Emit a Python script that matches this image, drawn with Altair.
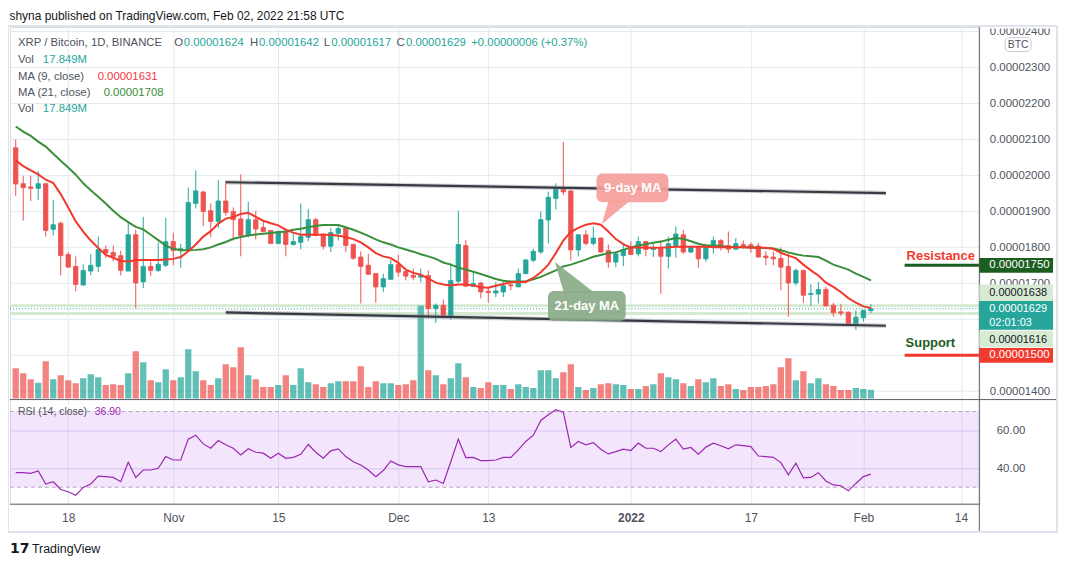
import altair as alt
import pandas as pd
import numpy as np

# ---------------- data (prices in units of 1e-8 BTC) ----------------
opens = [2077,1977,1968,1964,1977,1850,1867,1780,1747,1695,1734,1747,1794,1786,1777,1734,1835,1704,1747,1736,
         1750,1816,1791,1793,1922,1954,1902,1872,1929,1900,1879,1833,1877,1855,1847,1811,1844,1808,1814,
         1828,1877,1837,1803,1839,1854,1808,1773,1750,1727,1690,1711,1752,1733,1722,1717,1722,1630,
         1639,1609,1706,1805,1692,1701,1678,1673,1676,1696,1690,1727,1764,1787,1876,1936,1964,1957,1793,
         1835,1811,1826,1791,1759,1777,1800,1782,1816,1794,1796,1775,1805,1835,1787,1800,1768,1800,
         1819,1805,1795,1808,1807,1804,1776,1773,1769,1747,1701,1736,1669,1670,1683,1639,1621,1620,1587,1604,1624]
highs = [2100,1999,1999,2012,1979,1932,1872,1787,1775,1753,1782,1830,1805,1805,1791,1872,1849,1885,1761,1814,
         1882,1841,1810,1966,2014,1957,1922,1987,1985,1911,2003,1927,1902,1872,1848,1847,1848,1839,1922,
         1906,1882,1839,1854,1865,1856,1810,1789,1782,1727,1727,1765,1780,1736,1741,1741,1736,1644,
         1655,1756,1902,1821,1731,1704,1690,1704,1708,1706,1741,1768,1796,1900,1955,1978,2093,1959,1835,
         1848,1858,1828,1808,1789,1808,1817,1830,1817,1810,1819,1830,1858,1848,1804,1805,1810,1830,
         1823,1844,1826,1819,1814,1812,1789,1789,1800,1787,1741,1738,1697,1704,1690,1646,1642,1621,1625,1625,1642]
lows = [1943,1874,1929,1932,1830,1833,1722,1743,1678,1695,1722,1731,1771,1761,1722,1734,1630,1687,1720,1731,
        1745,1750,1743,1791,1908,1860,1828,1854,1888,1819,1775,1828,1822,1842,1810,1808,1775,1805,1794,
        1817,1830,1794,1787,1819,1787,1765,1644,1725,1646,1676,1711,1719,1708,1708,1703,1602,1590,
        1602,1599,1701,1690,1690,1658,1646,1662,1662,1681,1690,1725,1759,1782,1811,1905,1945,1764,1775,
        1805,1805,1785,1743,1745,1748,1779,1775,1775,1773,1671,1741,1771,1782,1784,1743,1760,1782,
        1791,1784,1794,1796,1785,1771,1750,1750,1681,1607,1694,1646,1637,1644,1637,1607,1609,1587,1570,1593,1617]
closes = [1976,1966,1964,1977,1847,1863,1777,1745,1697,1736,1750,1794,1784,1775,1736,1835,1701,1747,1736,1753,
          1816,1791,1796,1925,1957,1900,1872,1929,1897,1877,1833,1877,1851,1844,1811,1844,1808,1816,1830,
          1877,1833,1803,1841,1852,1805,1770,1747,1725,1690,1713,1752,1731,1720,1717,1722,1630,1639,
          1611,1708,1808,1692,1699,1676,1674,1679,1693,1693,1727,1765,1789,1877,1939,1964,1954,1793,1835,
          1811,1826,1787,1759,1782,1794,1780,1816,1794,1798,1775,1810,1837,1787,1800,1768,1802,1819,
          1800,1795,1810,1804,1799,1773,1771,1768,1745,1701,1736,1667,1672,1683,1637,1618,1617,1587,1606,1625,1629]
volumes = [61,51,39,32,75,39,47,37,31,41,49,43,27,29,27,51,95,73,37,33,
           59,37,43,99,55,37,27,41,69,63,103,47,39,23,23,27,47,27,61,
           33,29,23,31,35,35,35,65,23,35,31,31,27,29,37,187,57,47,
           29,41,71,43,23,21,33,27,27,19,29,23,21,57,57,41,53,69,23,
           17,21,29,31,29,27,19,19,25,29,51,43,39,31,25,39,33,41,
           25,29,19,17,23,23,25,29,63,81,37,55,31,41,29,25,17,17,21,19,17.849]
ma9 = [2042,2026,2014,2003,1988,1979,1948,1911,1872,1844,1819,1798,1779,1771,1762,1761,1764,1765,1765,1765,
       1766,1768,1773,1789,1808,1830,1845,1866,1880,1884,1893,1896,1885,1874,1867,1861,1849,1841,1835,
       1836,1835,1835,1835,1832,1829,1823,1814,1800,1784,1775,1770,1757,1738,1729,1724,1713,1702,
       1697,1694,1697,1697,1694,1689,1688,1693,1698,1703,1704,1704,1715,1731,1752,1784,1819,1843,1854,
       1863,1867,1863,1844,1823,1809,1799,1800,1799,1799,1799,1800,1802,1802,1802,1802,1802,1800,
       1800,1800,1800,1800,1799,1799,1799,1796,1785,1777,1770,1752,1736,1722,1702,1690,1676,1659,1646,1636,1631]
ma21 = [2136,2122,2110,2094,2080,2060,2041,2022,2002,1978,1959,1941,1922,1902,1884,1870,1857,1850,1835,1820,
        1805,1796,1792,1792,1793,1795,1800,1808,1815,1824,1829,1833,1836,1838,1840,1842,1844,1849,1852,
        1856,1860,1862,1862,1862,1856,1849,1841,1832,1822,1814,1808,1800,1794,1788,1781,1775,1768,
        1758,1752,1744,1738,1732,1726,1719,1712,1707,1705,1705,1706,1711,1718,1727,1736,1747,1752,1759,
        1766,1774,1779,1784,1786,1793,1800,1805,1809,1813,1816,1821,1826,1824,1817,1810,1805,1805,
        1804,1802,1801,1800,1800,1799,1798,1797,1792,1786,1781,1777,1775,1773,1763,1752,1745,1738,1727,1718,1708]
rsi = [37.7,37.7,37.3,38.6,31.7,32.9,28.8,27.6,25.8,29.9,31.7,35.9,35.6,35.2,32.9,43.2,35.2,39.1,39.1,40.0,
       46.2,44.4,44.4,55.4,57.5,52.9,50.6,54.7,52.4,50.6,47.1,50.3,48.5,48.0,45.3,48.0,45.3,45.8,47.4,
       52.6,48.5,45.3,49.2,50.3,46.2,43.5,41.8,39.1,35.6,38.8,43.9,41.8,40.9,40.9,40.9,32.9,33.8,
       32.0,43.5,55.4,45.7,45.8,44.1,44.1,44.4,45.8,45.8,49.7,54.2,57.5,65.3,68.3,71.0,69.7,51.0,54.2,
       52.4,53.6,50.1,47.6,48.8,50.1,49.4,53.3,50.6,50.6,48.8,52.4,55.4,50.1,51.0,47.4,51.2,53.3,
       51.9,50.3,52.4,52.0,51.5,46.5,46.2,45.8,43.0,36.5,42.7,35.0,35.2,37.7,33.3,31.2,30.8,28.1,32.0,35.6,36.9]

first_day = "2021-10-11"
dates = pd.date_range(first_day, periods=len(opens), freq="D").strftime("%Y-%m-%d").tolist()

trend_dates = ["2021-11-08", "2022-02-04"]
upper_trend = [1981, 1951]
lower_trend = [1619, 1582]

resistance_level = 1750
support_level = 1500
bid_ask_levels = [1638, 1616]
last_price = 1629
# 0.00001600 is fully covered by the price tags in the reference, so it is not labelled
tick_prices = [1400, 1500, 1700, 1800, 1900, 2000, 2100, 2200, 2300, 2400]
grid_prices = list(range(1400, 2401, 100))
rsi_levels = [30, 70]
rsi_ticks = [40, 60]

# ---------------- styling ----------------
FONT = "Liberation Sans"
UP, DOWN = "#26a69a", "#ef5350"
GRID = "#e1ecf2"
TXT = "#50535e"
W, H = 973, 479
LEG = 11.4

df = pd.DataFrame({"date": dates, "open": opens, "high": highs, "low": lows, "close": closes,
                   "vol": volumes, "ma9": ma9, "ma21": ma21, "rsi": rsi})
df["dir"] = np.where(df["close"] >= df["open"], "up", "down")

dir_scale = alt.Scale(domain=["up", "down"], range=[UP, DOWN])
price_scale = alt.Scale(domain=[1086, 2412.7], nice=False, zero=False)
vol_scale = alt.Scale(domain=[-212, 746], nice=False, zero=False)
rsi_scale = alt.Scale(domain=[21.05, 273.2], nice=False, zero=False)
x_scale = alt.Scale(type="utc", nice=False, domain=[
    alt.DateTime(year=2021, month=10, date=10, hours=21, minutes=36, utc=True),
    alt.DateTime(year=2022, month=2, date=15, hours=19, utc=True)])

x_ticks = [alt.DateTime(year=y, month=m, date=d, utc=True) for (y, m, d) in
           [(2021, 10, 18), (2021, 11, 1), (2021, 11, 15), (2021, 12, 1), (2021, 12, 13),
            (2022, 1, 1), (2022, 1, 17), (2022, 2, 1), (2022, 2, 14)]]
x_axis = alt.Axis(values=x_ticks, title=None, grid=True, gridColor=GRID, domain=False, ticks=False,
                  labelPadding=8, labelFont=FONT, labelFontSize=12, labelColor=TXT,
                  labelOverlap=False, labelFlush=False, zindex=0,
                  labelExpr="utcdate(datum.value)==1 ? (utcmonth(datum.value)==0 ? utcFormat(datum.value,'%Y') : utcFormat(datum.value,'%b')) : utcFormat(datum.value,'%-d')",
                  labelFontWeight={"condition": {"test": "utcmonth(datum.value)==0 && utcdate(datum.value)==1", "value": "bold"}, "value": "normal"})
price_axis = alt.Axis(orient="right", values=tick_prices, title=None, grid=False,
                      domain=False, ticks=False, labelPadding=10, labelFont=FONT, labelFontSize=11.5,
                      labelColor=TXT, labelOverlap=False, zindex=0,
                      labelExpr="format(datum.value/1e8, '.8f')")
rsi_axis = alt.Axis(orient="right", values=rsi_ticks, title=None, grid=True, gridColor="#dcd6ef",
                    domain=False, ticks=False, labelPadding=17, labelFont=FONT, labelFontSize=11.5,
                    labelColor=TXT, labelOverlap=False, zindex=0,
                    labelExpr="format(datum.value, '.2f')")


def X(field="date"):
    return alt.X(f"{field}:T", scale=x_scale, axis=x_axis)


ONE = pd.DataFrame({"k": [0]})


def txt(s, x, y, size=LEG, color=TXT, weight="normal", align="left", font=FONT):
    return alt.Chart(ONE).mark_text(text=s, align=align, baseline="middle", fontSize=size,
                                    color=color, fontWeight=weight, font=font).encode(
        x=alt.value(x), y=alt.value(y))


def box(x1, x2, y1, y2, color, radius=0, opacity=1.0):
    return alt.Chart(ONE).mark_rect(color=color, cornerRadius=radius, opacity=opacity).encode(
        x=alt.value(x1), x2=alt.value(x2), y=alt.value(y1), y2=alt.value(y2))


def rule(x1, x2, y1, y2, color, width=1.0):
    return alt.Chart(ONE).mark_rule(color=color, strokeWidth=width).encode(
        x=alt.value(x1), x2=alt.value(x2), y=alt.value(y1), y2=alt.value(y2))


def pointer(cx, cy, r, path, color, opacity):
    return alt.Chart(ONE).mark_point(shape=path, size=(2 * r) ** 2, filled=True, color=color,
                                     opacity=opacity, strokeWidth=0).encode(
        x=alt.value(cx), y=alt.value(cy))


layers = []

# horizontal price grid
layers.append(alt.Chart(pd.DataFrame({"p": grid_prices})).mark_rule(color=GRID, strokeWidth=1).encode(
    x=alt.value(0), x2=alt.value(W), y=alt.Y("p:Q", scale=price_scale, axis=None)))

# RSI pane background band and levels
band = pd.DataFrame({"hi": [rsi_levels[1]], "lo": [rsi_levels[0]]})
layers.append(alt.Chart(band).mark_rect(color="#c37df0", opacity=0.2).encode(
    x=alt.value(0), x2=alt.value(W),
    y=alt.Y("hi:Q", scale=rsi_scale, axis=rsi_axis), y2="lo:Q"))
layers.append(alt.Chart(pd.DataFrame({"lvl": rsi_levels})).mark_rule(
    color="#b9a7c3", strokeDash=[4, 3], strokeWidth=1).encode(
    x=alt.value(0), x2=alt.value(W), y=alt.Y("lvl:Q", scale=rsi_scale, axis=None)))

# bid / ask and last price lines
layers.append(alt.Chart(pd.DataFrame({"p": bid_ask_levels})).mark_rule(
    color="#d6ead2", strokeWidth=3).encode(
    x=alt.value(0), x2=alt.value(W), y=alt.Y("p:Q", scale=price_scale, axis=None)))
layers.append(alt.Chart(pd.DataFrame({"p": [last_price]})).mark_rule(
    color=UP, strokeDash=[1, 2], strokeWidth=1).encode(
    x=alt.value(0), x2=alt.value(W), y=alt.Y("p:Q", scale=price_scale, axis=None)))

# volume
layers.append(alt.Chart(df).mark_bar(size=6.3, opacity=0.72, clip=True).encode(
    x=X(), y=alt.Y("vol:Q", scale=vol_scale, axis=None),
    color=alt.Color("dir:N", scale=dir_scale, legend=None)))

# candles
layers.append(alt.Chart(df).mark_rule(strokeWidth=1, clip=True).encode(
    x=X(), y=alt.Y("low:Q", scale=price_scale, axis=price_axis), y2="high:Q",
    color=alt.Color("dir:N", scale=dir_scale, legend=None)))
layers.append(alt.Chart(df).mark_bar(size=4.4, strokeWidth=0.8, clip=True).encode(
    x=X(), y=alt.Y("open:Q", scale=price_scale, axis=None), y2="close:Q",
    color=alt.Color("dir:N", scale=dir_scale, legend=None),
    stroke=alt.Stroke("dir:N", scale=dir_scale, legend=None)))

# moving averages
layers.append(alt.Chart(df).mark_line(color="#3a8f3a", strokeWidth=2, clip=True).encode(
    x=X(), y=alt.Y("ma21:Q", scale=price_scale, axis=None)))
layers.append(alt.Chart(df).mark_line(color="#f2382c", strokeWidth=2, clip=True).encode(
    x=X(), y=alt.Y("ma9:Q", scale=price_scale, axis=None)))

# RSI line
layers.append(alt.Chart(df).mark_line(color="#9c27b0", strokeWidth=1.2, clip=True).encode(
    x=X(), y=alt.Y("rsi:Q", scale=rsi_scale, axis=None)))

# trend channel
trend = pd.DataFrame({"date": trend_dates * 2, "price": upper_trend + lower_trend,
                      "line": ["upper", "upper", "lower", "lower"]})
layers.append(alt.Chart(trend).mark_line(color="#9a9a9a", strokeWidth=4.5, opacity=0.45).encode(
    x=X(), y=alt.Y("price:Q", scale=price_scale, axis=None), detail="line:N"))
layers.append(alt.Chart(trend).mark_line(color="#363a45", strokeWidth=2.2).encode(
    x=X(), y=alt.Y("price:Q", scale=price_scale, axis=None), detail="line:N"))

# callouts
C9, C21 = "#f6a09b", "#8aab88"
layers.append(box(588.7, 661, 147, 176, C9, radius=6, opacity=0.92))
layers.append(pointer(608, 187, 15, "M-0.467,-0.867L1,-0.867L-0.933,0.733Z", C9, 0.92))
layers.append(txt("9-day MA", 625, 161.5, size=13, color="white", weight="bold", align="center"))
layers.append(box(540, 618, 265, 295, C21, radius=6, opacity=0.92))
layers.append(pointer(567, 251, 20, "M-1,-0.75L-0.55,0.8L1,0.8Z", C21, 0.92))
layers.append(txt("21-day MA", 579, 280, size=13, color="white", weight="bold", align="center"))

# resistance / support
layers.append(alt.Chart(pd.DataFrame({"p": [resistance_level]})).mark_rule(
    color="#1b5e20", strokeWidth=3).encode(
    x=alt.value(898), x2=alt.value(W), y=alt.Y("p:Q", scale=price_scale, axis=None)))
layers.append(alt.Chart(pd.DataFrame({"p": [support_level]})).mark_rule(
    color="#f23a2e", strokeWidth=3).encode(
    x=alt.value(898), x2=alt.value(W), y=alt.Y("p:Q", scale=price_scale, axis=None)))
layers.append(txt("Resistance", 900, 230, size=13, color="#f23a2e", weight="bold"))
layers.append(txt("Support", 899, 317, size=13, color="#1e5c1e", weight="bold"))

# frame and separators
layers.append(box(973, 1060, -18, 1.5, "white"))
layers.append(rule(0, 1051, 374, 374, "#5d606b", 1))
layers.append(rule(0, W, 479, 479, "#5d606b", 1))
layers.append(rule(W, W, 0, 507, "#5d606b", 1))
layers.append(alt.Chart(ONE).mark_rect(fill="white", fillOpacity=0, stroke="#e0e3eb", strokeWidth=2).encode(
    x=alt.value(-2), x2=alt.value(1051), y=alt.value(-1), y2=alt.value(507)))

# price tags on the scale
TAG = 11
RECT = "M-1,-0.2L1,-0.2L1,0.2L-1,0.2Z"
for lvl, bg in [(resistance_level, "#1b5e20"), (support_level, "#f23a2e")]:
    t = pd.DataFrame({"p": [lvl], "label": [f"{lvl / 1e8:.8f}"]})
    layers.append(alt.Chart(t).mark_point(shape=RECT, size=74 ** 2, filled=True, color=bg,
                                          opacity=1, strokeWidth=0).encode(
        x=alt.value(1010), y=alt.Y("p:Q", scale=price_scale, axis=None)))
    layers.append(alt.Chart(t).mark_text(align="left", baseline="middle", fontSize=11.5, font=FONT,
                                         color="white").encode(
        x=alt.value(983), y=alt.Y("p:Q", scale=price_scale, axis=None), text="label:N"))

layers.append(box(973, 1047, 258.5, 275, "#d7ead3"))
layers.append(txt(f"{bid_ask_levels[0] / 1e8:.8f}", 983, 267, size=TAG, color="#131722"))
layers.append(box(973, 1047, 275, 304, UP))
layers.append(txt(f"{last_price / 1e8:.8f}", 983, 283, size=TAG, color="white"))
layers.append(txt("02:01:03", 983, 297.5, size=TAG, color="white"))
layers.append(box(973, 1047, 305, 321.7, "#d7ead3"))
layers.append(txt(f"{bid_ask_levels[1] / 1e8:.8f}", 983, 314, size=TAG, color="#131722"))

# BTC badge
layers.append(alt.Chart(ONE).mark_rect(fill="white", stroke="#c8cbd2", strokeWidth=1, cornerRadius=4).encode(
    x=alt.value(999), x2=alt.value(1025), y=alt.value(10.7), y2=alt.value(24.7)))
layers.append(txt("BTC", 1012, 17.7, size=10.5, color=TXT, align="center"))

# legend texts
layers.append(txt("shyna published on TradingView.com, Feb 02, 2022 21:58 UTC", -0.5, -11, size=12, color="#131722"))
layers.append(txt("XRP / Bitcoin, 1D, BINANCE", 8, 15.7))
for lab, lx, val, vx in [("O", 165, "0.00001624", 174.5), ("H", 241, "0.00001642", 250),
                         ("L", 315, "0.00001617", 322.5), ("C", 388, "0.00001629", 397.5)]:
    layers.append(txt(lab, lx, 15.7))
    layers.append(txt(val, vx, 15.7, color=UP))
layers.append(txt("+0.00000006 (+0.37%)", 463, 15.7, color=UP))
layers.append(txt("Vol", 8, 33.3))
layers.append(txt("17.849M", 33, 33.3, color=UP))
layers.append(txt("MA (9, close)", 8, 50))
layers.append(txt("0.00001631", 88, 50, color="#f23645"))
layers.append(txt("MA (21, close)", 8, 66))
layers.append(txt("0.00001708", 94, 66, color="#388e3c"))
layers.append(txt("Vol", 8, 82.5))
layers.append(txt("17.849M", 33, 82.5, color=UP))
layers.append(txt("RSI (14, close)", 8, 386, size=10.5))
layers.append(txt("36.90", 85, 386, size=10.5, color="#9c27b0"))

# logo
layers.append(txt("17", 0, 524, size=14, color="#131722", weight="bold", font="DejaVu Sans"))
layers.append(txt("TradingView", 22, 524, size=12.5, color="#131722"))

chart = alt.layer(*layers).resolve_scale(y="independent").properties(
    width=W, height=H,
    padding={"left": 2, "top": 18, "right": 84, "bottom": 58},
    autosize=alt.AutoSizeParams(type="none"),
).configure_view(strokeWidth=0).configure(background="white")

chart.save("out.html", embed_options={"renderer": "svg", "actions": False})
